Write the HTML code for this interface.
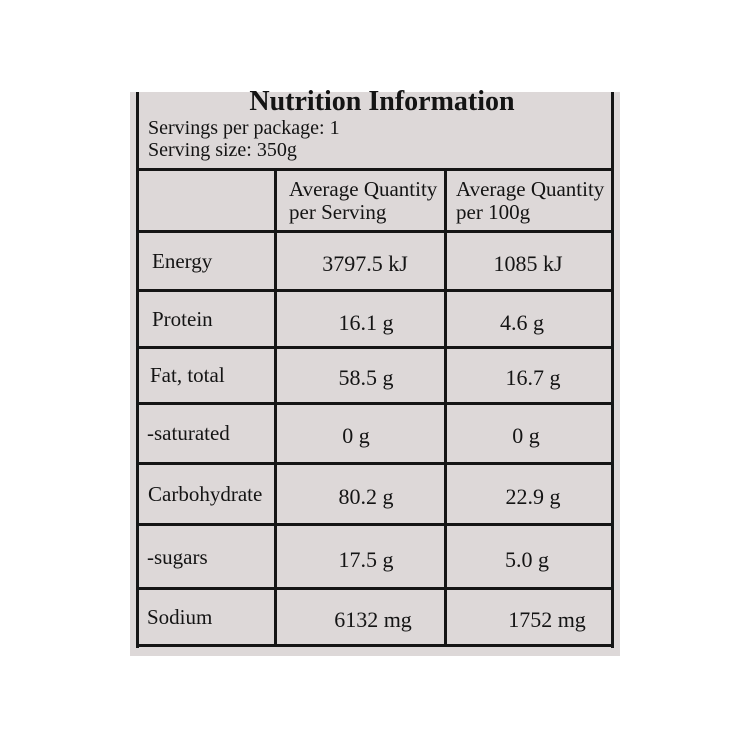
<!DOCTYPE html>
<html><head><style>
body{margin:0;width:750px;height:750px;background:#fff;position:relative;overflow:hidden;font-family:"Liberation Serif",serif;color:#141414}
.bg{position:absolute;left:130px;top:92px;width:490px;height:564px;background:#ddd8d8}
.l{position:absolute;background:#151515}
.t{position:absolute;font-size:22px;white-space:nowrap;line-height:1}
.c{transform:translateX(-50%)}
</style></head><body>
<div class="bg"></div>
<div class="l" style="left:136px;top:92px;width:3px;height:556px"></div>
<div class="l" style="left:611px;top:92px;width:3px;height:556px"></div>
<div class="l" style="left:136px;top:644px;width:478px;height:3px"></div>
<div class="l" style="left:136px;top:168px;width:478px;height:3px"></div>
<div class="l" style="left:136px;top:230px;width:478px;height:3px"></div>
<div class="l" style="left:136px;top:289px;width:478px;height:3px"></div>
<div class="l" style="left:136px;top:346px;width:478px;height:3px"></div>
<div class="l" style="left:136px;top:402px;width:478px;height:3px"></div>
<div class="l" style="left:136px;top:462px;width:478px;height:3px"></div>
<div class="l" style="left:136px;top:523px;width:478px;height:3px"></div>
<div class="l" style="left:136px;top:587px;width:478px;height:3px"></div>
<div class="l" style="left:274px;top:168px;width:3px;height:479px"></div>
<div class="l" style="left:444px;top:168px;width:3px;height:479px"></div>

<div class="t c" style="left:382px;top:88px;font-size:28px;font-weight:bold">Nutrition Information</div>
<div class="t" style="left:148px;top:118px;font-size:20px">Servings per package: 1</div>
<div class="t" style="left:148px;top:140px;font-size:20px">Serving size: 350g</div>

<div class="t" style="left:289px;top:178px;font-size:21px;line-height:23px">Average Quantity<br>per Serving</div>
<div class="t" style="left:456px;top:178px;font-size:21px;line-height:23px">Average Quantity<br>per 100g</div>

<div class="t" style="left:152px;top:251px;font-size:21px">Energy</div>
<div class="t c" style="left:365px;top:253px">3797.5 kJ</div>
<div class="t c" style="left:528px;top:253px">1085 kJ</div>

<div class="t" style="left:152px;top:309px;font-size:21px">Protein</div>
<div class="t c" style="left:366px;top:312px">16.1 g</div>
<div class="t c" style="left:522px;top:312px">4.6 g</div>

<div class="t" style="left:150px;top:365px;font-size:21px">Fat, total</div>
<div class="t c" style="left:366px;top:367px">58.5 g</div>
<div class="t c" style="left:533px;top:367px">16.7 g</div>

<div class="t" style="left:147px;top:423px;font-size:21px">-saturated</div>
<div class="t c" style="left:356px;top:425px">0 g</div>
<div class="t c" style="left:526px;top:425px">0 g</div>

<div class="t" style="left:148px;top:484px;font-size:21px">Carbohydrate</div>
<div class="t c" style="left:366px;top:486px">80.2 g</div>
<div class="t c" style="left:533px;top:486px">22.9 g</div>

<div class="t" style="left:147px;top:547px;font-size:21px">-sugars</div>
<div class="t c" style="left:366px;top:549px">17.5 g</div>
<div class="t c" style="left:527px;top:549px">5.0 g</div>

<div class="t" style="left:147px;top:607px;font-size:21px">Sodium</div>
<div class="t c" style="left:373px;top:609px">6132 mg</div>
<div class="t c" style="left:547px;top:609px">1752 mg</div>
</body></html>
